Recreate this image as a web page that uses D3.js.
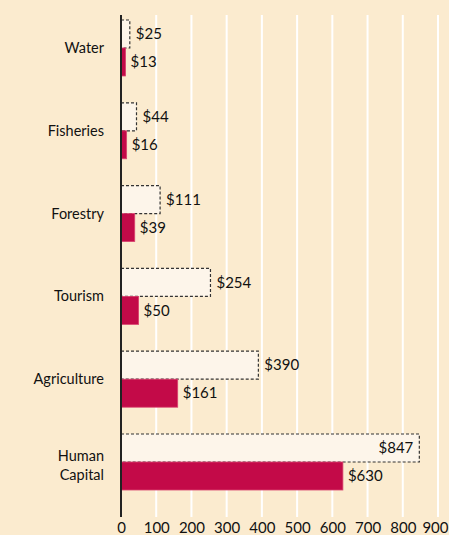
<!DOCTYPE html>
<html>
<head>
<meta charset="utf-8">
<script src="https://cdn.jsdelivr.net/npm/d3@7"></script>
<style>
  body { margin: 0; background: #fbebcf; }
  svg { display: block; font-family: "Lato", "Noto Sans", sans-serif; }
</style>
</head>
<body>
<script>
var w = 449;
var h = 535;

// the data
var categories = ["Water", "Fisheries", "Forestry", "Tourism", "Agriculture", "Human Capital"];
var potential = [25, 44, 111, 254, 390, 847];   // dashed bars
var current = [13, 16, 39, 50, 161, 630];       // red bars
var ticks = [0, 100, 200, 300, 400, 500, 600, 700, 800, 900];

var svg = d3.select("body")
            .append("svg")
            .attr("width", w)
            .attr("height", h);

svg.append("rect")
   .attr("width", w)
   .attr("height", h)
   .attr("fill", "#fbebcf");

// x scale
var xScale = d3.scaleLinear()
               .domain([0, 900])
               .range([121, 438]);

// one band per category, split in two for the two series
var yScale = d3.scaleBand()
               .domain(categories)
               .range([20, 490])
               .paddingInner(0.324)
               .paddingOuter(0);

var inner = d3.scaleBand()
              .domain(["potential", "current"])
              .range([0, yScale.bandwidth()]);

// white gridlines
svg.selectAll(".grid")
   .data(ticks.slice(1))
   .enter()
   .append("line")
   .attr("class", "grid")
   .attr("x1", function (d) { return xScale(d); })
   .attr("x2", function (d) { return xScale(d); })
   .attr("y1", 15)
   .attr("y2", 517)
   .attr("stroke", "#ffffff")
   .attr("stroke-width", 2);

// tick labels
var xAxis = d3.axisBottom(xScale)
              .tickValues(ticks)
              .tickSize(0)
              .tickPadding(0);

var gx = svg.append("g")
            .attr("transform", "translate(0,519)")
            .call(xAxis);
gx.select(".domain").remove();
gx.selectAll("text")
  .attr("dy", "0.9em")
  .style("font-size", "15px")
  .style("font-family", "Lato, 'Noto Sans', sans-serif")
  .attr("fill", "#111");
// keep the last label inside the picture
gx.selectAll(".tick")
  .filter(function (d) { return d === 900; })
  .select("text")
  .attr("text-anchor", "end")
  .attr("x", 10);

// dashed bars
svg.selectAll(".pot")
   .data(potential)
   .enter()
   .append("rect")
   .attr("class", "pot")
   .attr("x", xScale(0))
   .attr("y", function (d, i) { return yScale(categories[i]) + inner("potential"); })
   .attr("width", function (d) { return xScale(d) - xScale(0); })
   .attr("height", inner.bandwidth())
   .attr("fill", "#fdf5ea")
   .attr("stroke", "#333")
   .attr("stroke-width", 1.2)
   .attr("stroke-dasharray", "3,2");

// red bars
svg.selectAll(".cur")
   .data(current)
   .enter()
   .append("rect")
   .attr("class", "cur")
   .attr("x", xScale(0))
   .attr("y", function (d, i) { return yScale(categories[i]) + inner("current"); })
   .attr("width", function (d) { return xScale(d) - xScale(0); })
   .attr("height", inner.bandwidth())
   .attr("fill", "#c30a48")
   .attr("stroke", "#d9436f")
   .attr("stroke-width", 0.8);

// value labels
svg.selectAll(".potText")
   .data(potential)
   .enter()
   .append("text")
   .attr("class", "potText")
   .attr("x", function (d) { return d > 800 ? xScale(d) - 6 : xScale(d) + 6; })
   .attr("y", function (d, i) { return yScale(categories[i]) + inner("potential") + inner.bandwidth() / 2; })
   .attr("dy", "0.35em")
   .attr("text-anchor", function (d) { return d > 800 ? "end" : "start"; })
   .style("font-size", "15px")
   .attr("fill", "#111")
   .text(function (d) { return "$" + d; });

svg.selectAll(".curText")
   .data(current)
   .enter()
   .append("text")
   .attr("class", "curText")
   .attr("x", function (d) { return xScale(d) + 5; })
   .attr("y", function (d, i) { return yScale(categories[i]) + inner("current") + inner.bandwidth() / 2; })
   .attr("dy", "0.35em")
   .style("font-size", "15px")
   .attr("fill", "#111")
   .text(function (d) { return "$" + d; });

// category labels
svg.selectAll(".cat")
   .data(categories)
   .enter()
   .append("text")
   .attr("class", "cat")
   .attr("x", 104)
   .attr("y", function (d) { return yScale(d) + yScale.bandwidth() / 2; })
   .attr("text-anchor", "end")
   .style("font-size", "14.5px")
   .attr("fill", "#111")
   .each(function (d) {
       var words = d.split(" ");
       var t = d3.select(this);
       if (words.length === 1) {
           t.append("tspan").attr("x", 104).attr("dy", "0.35em").text(d);
       } else {
           t.append("tspan").attr("x", 104).attr("dy", "-0.05em").text(words[0]);
           t.append("tspan").attr("x", 104).attr("dy", "1.3em").text(words[1]);
       }
   });

// y axis line
svg.append("line")
   .attr("x1", xScale(0))
   .attr("x2", xScale(0))
   .attr("y1", 15)
   .attr("y2", 517)
   .attr("stroke", "#222")
   .attr("stroke-width", 2);
</script>
</body>
</html>
